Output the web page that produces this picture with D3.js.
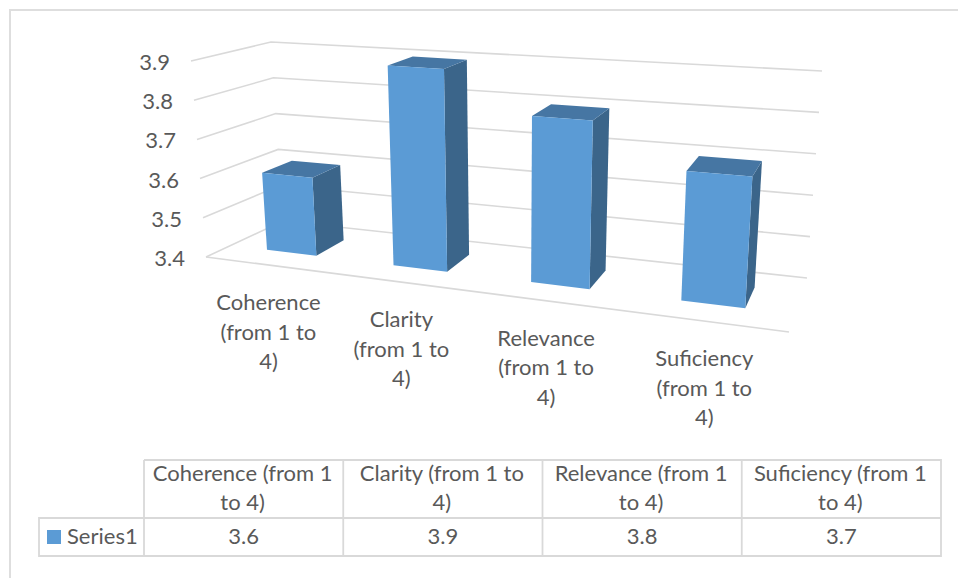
<!DOCTYPE html>
<html>
<meta charset=utf-8>
<head>
<script src="https://d3js.org/d3.v7.min.js"></script>
<style>
  body { margin: 0; background: #fff; }
  text { font-family: Lato, sans-serif; font-size: 22px; fill: #595959; }
</style>
</head>
<body>
<script>

var categories = ["Coherence (from 1 to 4)", "Clarity (from 1 to 4)", "Relevance (from 1 to 4)", "Suficiency (from 1 to 4)"];
var values = [3.6, 3.9, 3.8, 3.7];
var ticks = [3.4, 3.5, 3.6, 3.7, 3.8, 3.9];
var seriesName = "Series1";

// how the category labels and table headers wrap
var axisLines = [["Coherence", "(from 1 to", "4)"], ["Clarity", "(from 1 to", "4)"], ["Relevance", "(from 1 to", "4)"], ["Suficiency", "(from 1 to", "4)"]];
var headLines = [["Coherence (from 1", "to 4)"], ["Clarity (from 1 to", "4)"], ["Relevance (from 1", "to 4)"], ["Suficiency (from 1", "to 4)"]];

var width = 958, height = 578;

var svg = d3.select("body").append("svg")
    .attr("width", width)
    .attr("height", height)
    .style("display", "block");

// frame of the chart
svg.append("path")
    .attr("d", "M10,578V10H958")
    .attr("fill", "none")
    .attr("stroke", "#dedede")
    .attr("stroke-width", 2);

// the 3d box: front left, front right, back right, back left
// w is the perspective weight of each corner, smaller = nearer
var box = [
  { bottom: [206, 257], top: [191, 61], w: 1 },
  { bottom: [789, 332], top: [803, 102], w: 0.84 },
  { bottom: [807, 278], top: [822, 71], w: 0.945 },
  { bottom: [283, 221], top: [271, 42], w: 1.12 }
];

var x = d3.scaleBand().domain(categories).range([0, 1]).paddingInner(0.6).paddingOuter(0.3);
var xCenter = d3.scaleBand().domain(categories).range([0, 1]);
var y = d3.scaleLinear().domain([3.4, 3.9]).range([0, 1]);
var depth = [0.3, 0.7]; // bar front and back

// s along the categories, d into the chart, both 0..1, val is a chart value
function project(s, d, val) {
  var t = y(val), b = [(1 - s) * (1 - d), s * (1 - d), s * d, (1 - s) * d];
  var sw = 0, sx = 0, sy = 0;
  box.forEach(function(c, i) {
    var k = b[i] * c.w;
    sw += k;
    sx += k * (c.bottom[0] + (c.top[0] - c.bottom[0]) * t);
    sy += k * (c.bottom[1] + (c.top[1] - c.bottom[1]) * t);
  });
  return [sx / sw, sy / sw];
}

var line = d3.line();

// gridlines
svg.append("g").selectAll("path")
    .data(ticks)
    .join("path")
    .attr("d", function(t) { return line([project(0, 0, t), project(0, 1, t), project(1, 1, t)]); })
    .attr("fill", "none")
    .attr("stroke", "#d9d9d9")
    .attr("stroke-width", 1.6);

// front edge of the floor
svg.append("path")
    .attr("d", line([project(0, 0, 3.4), project(1, 0, 3.4)]))
    .attr("fill", "none")
    .attr("stroke", "#d9d9d9")
    .attr("stroke-width", 1.6);

// tick labels
svg.append("g").selectAll("text")
    .data(ticks)
    .join("text")
    .attr("x", function(t) { return project(0, 0, t)[0] - 21; })
    .attr("y", function(t) { return project(0, 0, t)[1] + 9; })
    .attr("text-anchor", "end")
    .text(function(t) { return d3.format(".1f")(t); });

// bars
var bars = svg.append("g").selectAll("g")
    .data(categories)
    .join("g");

function face(corners, color) {
  bars.append("path")
      .attr("fill", color)
      .attr("d", function(c, i) {
        return line(corners.map(function(k) {
          return project(x(c) + k[0] * x.bandwidth(), depth[k[1]], k[2] ? values[i] : 3.4);
        })) + "Z";
      });
}
face([[1, 0, 0], [1, 1, 0], [1, 1, 1], [1, 0, 1]], "#3b658a");
face([[0, 0, 1], [1, 0, 1], [1, 1, 1], [0, 1, 1]], "#4676a3");
face([[0, 0, 0], [1, 0, 0], [1, 0, 1], [0, 0, 1]], "#5b9bd5");

// category labels
svg.append("g").selectAll("text")
    .data(categories)
    .join("text")
    .attr("text-anchor", "middle")
    .attr("transform", function(c) {
      var p = project(xCenter(c) + xCenter.bandwidth() / 2, 0, 3.4);
      return "translate(" + (p[0]) + "," + (p[1] + 45) + ")";
    })
    .selectAll("tspan")
    .data(function(c, i) { return axisLines[i]; })
    .join("tspan")
    .attr("x", 0)
    .attr("dy", function(d, i) { return i ? 29.5 : 0; })
    .text(function(d) { return d; });

// data table
var colX = d3.scaleBand().domain(categories).range([144, 941]);
var rowY = [460, 518, 556];
var tableLeft = 39;

var table = svg.append("g")
    .attr("fill", "none")
    .attr("stroke", "#d9d9d9")
    .attr("stroke-width", 1.8);

table.append("path").attr("d", "M144," + rowY[0] + "H941V" + rowY[2] + "H" + tableLeft + "V" + rowY[1] + "H941");
table.selectAll(".col")
    .data(categories)
    .join("path")
    .attr("class", "col")
    .attr("d", function(c) { return "M" + colX(c) + "," + rowY[0] + "V" + rowY[2]; });

var heads = svg.append("g").selectAll("text")
    .data(categories)
    .join("text")
    .attr("text-anchor", "middle");
heads.selectAll("tspan")
    .data(function(c, i) {
      return headLines[i].map(function(l) { return { c: c, l: l }; });
    })
    .join("tspan")
    .attr("x", function(d) { return colX(d.c) + colX.bandwidth() / 2 - 1; })
    .attr("y", function(d, i) { return rowY[0] + 21 + i * 29; })
    .text(function(d) { return d.l; });

svg.append("g").selectAll("text")
    .data(values)
    .join("text")
    .attr("text-anchor", "middle")
    .attr("x", function(v, i) { return colX(categories[i]) + colX.bandwidth() / 2; })
    .attr("y", rowY[1] + 26)
    .text(function(v) { return d3.format(".1f")(v); });

svg.append("rect")
    .attr("x", 47)
    .attr("y", 530)
    .attr("width", 14)
    .attr("height", 14)
    .attr("fill", "#5b9bd5");

svg.append("text")
    .attr("x", 67)
    .attr("y", rowY[1] + 26)
    .text(seriesName);

</script>
</body>
</html>
